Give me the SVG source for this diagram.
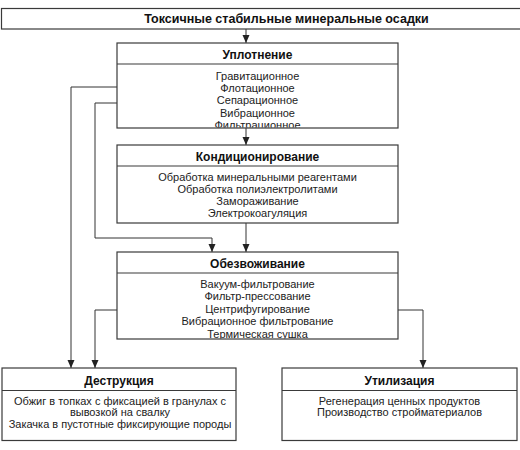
<svg xmlns="http://www.w3.org/2000/svg" width="520" height="450" viewBox="0 0 520 450">
<style>
.bg{fill:#fff}
.box{fill:#fff;stroke:#3a3a3a;stroke-width:1.2}
.sep{stroke:#3a3a3a;stroke-width:1.1}
.title{font-family:"Liberation Sans",Arial,sans-serif;font-weight:bold;font-size:12.5px;text-anchor:middle;fill:#111}
.hdr{font-family:"Liberation Sans",Arial,sans-serif;font-weight:bold;font-size:12px;text-anchor:middle;fill:#111}
.item{font-family:"Liberation Sans",Arial,sans-serif;font-size:11px;text-anchor:middle;fill:#222}
.conn{fill:none;stroke:#333;stroke-width:1}
</style>
<defs>
<marker id="arr" markerWidth="8" markerHeight="8" refX="8" refY="3.5" orient="auto" markerUnits="userSpaceOnUse">
<path d="M0,0 L8,3.5 L0,7 z" fill="#222"/>
</marker>
<clipPath id="c1"><rect x="117" y="64" width="281" height="63.5"/></clipPath>
<clipPath id="c3"><rect x="117" y="273" width="281" height="65.5"/></clipPath>
</defs>
<rect class="bg" x="0" y="0" width="520" height="450"/>

<g id="connectors">
<path class="conn" d="M246,29 V43" marker-end="url(#arr)"/>
<path class="conn" d="M246,128 V145" marker-end="url(#arr)"/>
<path class="conn" d="M246,223 V252" marker-end="url(#arr)"/>
<path class="conn" d="M117,87 H71 V368" marker-end="url(#arr)"/>
<path class="conn" d="M117,103 H95 V238 H212 V252" marker-end="url(#arr)"/>
<path class="conn" d="M117,310 H95 V368" marker-end="url(#arr)"/>
<path class="conn" d="M398,310 H423 V368" marker-end="url(#arr)"/>
</g>

<g id="source">
<rect class="box" x="1.5" y="8.5" width="530" height="20.5"/>
<text class="title" x="286.5" y="23">Токсичные стабильные минеральные осадки</text>
</g>

<g id="uplotnenie">
<rect class="box" x="117" y="43" width="281" height="85"/>
<line class="sep" x1="117" y1="64" x2="398" y2="64"/>
<text class="hdr" x="257.5" y="58.5">Уплотнение</text>
<g clip-path="url(#c1)">
<text class="item" x="257.5" y="80">Гравитационное</text>
<text class="item" x="257.5" y="92.3">Флотационное</text>
<text class="item" x="257.5" y="104.3">Сепарационное</text>
<text class="item" x="257.5" y="116.5">Вибрационное</text>
<text class="item" x="257.5" y="129">Фильтрационное</text>
</g>
</g>

<g id="konditsionirovanie">
<rect class="box" x="117" y="145" width="281" height="78"/>
<line class="sep" x1="117" y1="166" x2="398" y2="166"/>
<text class="hdr" x="257.5" y="160.5">Кондиционирование</text>
<text class="item" x="257.5" y="180.5">Обработка минеральными реагентами</text>
<text class="item" x="257.5" y="193">Обработка полиэлектролитами</text>
<text class="item" x="257.5" y="205">Замораживание</text>
<text class="item" x="257.5" y="217">Электрокоагуляция</text>
</g>

<g id="obezvozhivanie">
<rect class="box" x="117" y="252" width="281" height="87"/>
<line class="sep" x1="117" y1="273" x2="398" y2="273"/>
<text class="hdr" x="257.5" y="268">Обезвоживание</text>
<g clip-path="url(#c3)">
<text class="item" x="257.5" y="287.5">Вакуум-фильтрование</text>
<text class="item" x="257.5" y="300">Фильтр-прессование</text>
<text class="item" x="257.5" y="312.5">Центрифугирование</text>
<text class="item" x="257.5" y="325">Вибрационное фильтрование</text>
<text class="item" x="257.5" y="338">Термическая сушка</text>
</g>
</g>

<g id="destruktsiya">
<rect class="box" x="2" y="368" width="234" height="72.5"/>
<line class="sep" x1="2" y1="390.5" x2="236" y2="390.5"/>
<text class="hdr" x="119" y="384.5">Деструкция</text>
<text class="item" x="120" y="404.5">Обжиг в топках с фиксацией в гранулах с</text>
<text class="item" x="120" y="416">вывозкой на свалку</text>
<text class="item" x="120" y="427.5">Закачка в пустотные фиксирующие породы</text>
</g>

<g id="utilizatsiya">
<rect class="box" x="282" y="368" width="235" height="72.5"/>
<line class="sep" x1="282" y1="390.5" x2="517" y2="390.5"/>
<text class="hdr" x="399.5" y="384.5">Утилизация</text>
<text class="item" x="399.5" y="404.5">Регенерация ценных продуктов</text>
<text class="item" x="399.5" y="416">Производство стройматериалов</text>
</g>
</svg>
